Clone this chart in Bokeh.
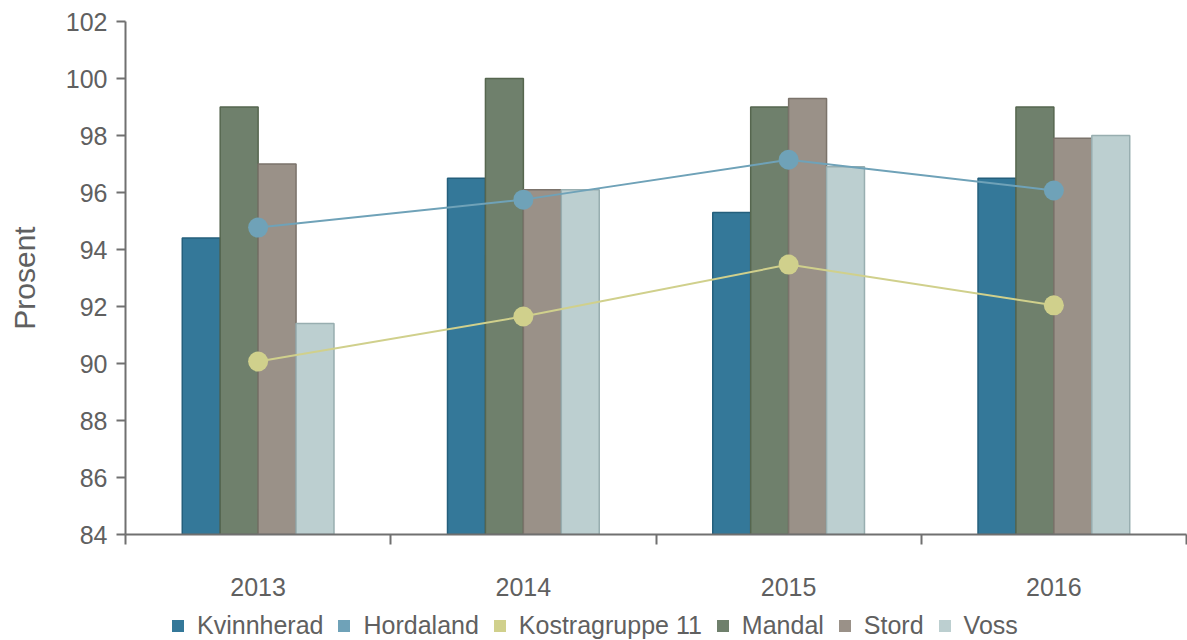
from bokeh.plotting import figure
from bokeh.layouts import column
from bokeh.models import Range1d, FixedTicker, ColumnDataSource, Legend, LegendItem
from bokeh.embed import file_html
from bokeh.resources import INLINE

# ---- data ----
years = ["2013", "2014", "2015", "2016"]
kvinnherad = [94.4, 96.5, 95.3, 96.5]
hordaland = [94.77, 95.75, 97.15, 96.07]
kostragruppe11 = [90.07, 91.65, 93.47, 92.04]
mandal = [99.0, 100.0, 99.0, 99.0]
stord = [97.0, 96.1, 99.3, 97.9]
voss = [91.4, 96.1, 96.9, 98.0]
y_ticks = [84, 86, 88, 90, 92, 94, 96, 98, 100, 102]

# ---- styles ----
FONT = "Liberation Sans"
TXT = "#606060"
AXIS = "#707070"
bar_series = [
    ("Kvinnherad", kvinnherad, "#347899", "#245f7c"),
    ("Mandal", mandal, "#6f806c", "#56664f"),
    ("Stord", stord, "#9a9188", "#7b736b"),
    ("Voss", voss, "#bccfd0", "#98aeb0"),
]
line_series = [
    ("Hordaland", hordaland, "#6fa2b8"),
    ("Kostragruppe 11", kostragruppe11, "#d0d08c"),
]
legend_order = ["Kvinnherad", "Hordaland", "Kostragruppe 11", "Mandal", "Stord", "Voss"]
colors = {n: c for n, _, c, _ in bar_series}
colors.update({n: c for n, _, c in line_series})

W = 1187
n = len(years)
p = figure(width=W, height=608, output_backend="svg", toolbar_location=None,
           x_range=Range1d(0, n), y_range=Range1d(y_ticks[0], y_ticks[-1]),
           min_border_left=125, min_border_top=21, min_border_bottom=74,
           min_border_right=1)
p.outline_line_color = None
p.grid.visible = False
p.background_fill_color = "white"
p.border_fill_color = "white"

centers = [i + 0.5 for i in range(n)]
bar_w = 0.143
sources = {}
for j, (name, vals, fill, line) in enumerate(bar_series):
    off = (j - (len(bar_series) - 1) / 2) * bar_w
    src = ColumnDataSource(dict(x=[c + off for c in centers], top=vals,
                                bottom=[y_ticks[0]] * n))
    sources[name] = src
    p.vbar(x="x", top="top", bottom="bottom", width=bar_w, source=src,
           fill_color=fill, line_color=line, line_width=1.5)

for name, vals, col in line_series:
    src = ColumnDataSource(dict(x=centers, y=vals, top=vals,
                                bottom=[y_ticks[0]] * n))
    sources[name] = src
    p.line("x", "y", source=src, line_color=col, line_width=2)
    p.scatter("x", "y", source=src, size=20, fill_color=col, line_color=None)

# x axis: labels at centers, ticks at boundaries
xa = p.xaxis[0]
xa.ticker = FixedTicker(ticks=centers, minor_ticks=list(range(n + 1)))
xa.major_label_overrides = {c: y for c, y in zip(centers, years)}
xa.major_tick_out = 0
xa.major_tick_in = 0
xa.minor_tick_out = 10
xa.minor_tick_in = 0
xa.minor_tick_line_color = AXIS
xa.minor_tick_line_width = 2
xa.axis_line_color = AXIS
xa.axis_line_width = 2
xa.major_label_standoff = 33
xa.major_label_text_font = FONT
xa.major_label_text_font_size = "25px"
xa.major_label_text_color = TXT

ya = p.yaxis[0]
ya.ticker = FixedTicker(ticks=y_ticks, minor_ticks=[])
ya.major_tick_out = 9
ya.major_tick_in = 0
ya.major_tick_line_color = AXIS
ya.major_tick_line_width = 2
ya.axis_line_color = AXIS
ya.axis_line_width = 2
ya.major_label_standoff = 9
ya.major_label_text_font = FONT
ya.major_label_text_font_size = "25px"
ya.major_label_text_color = TXT
ya.axis_label = "Prosent"
ya.axis_label_text_font = FONT
ya.axis_label_text_font_size = "30px"
ya.axis_label_text_font_style = "normal"
ya.axis_label_text_color = TXT
ya.axis_label_standoff = 22

# ---- legend strip below the chart (frames are aligned with the chart) ----
lg = figure(width=W, height=32, output_backend="svg", toolbar_location=None,
            x_axis_location=None, y_axis_location=None,
            x_range=Range1d(0, n), y_range=Range1d(y_ticks[0], y_ticks[-1]),
            min_border_left=0, min_border_right=0, min_border_top=0,
            min_border_bottom=0)
lg.outline_line_color = None
lg.grid.visible = False
items = []
for name in legend_order:
    r = lg.vbar(x="x", top="top", bottom="bottom", width=bar_w,
                source=sources[name], fill_color=colors[name], line_color=None,
                visible=False)
    items.append(LegendItem(label=name, renderers=[r]))
legend = Legend(items=items, orientation="horizontal", location=(45, 0),
                glyph_width=15, glyph_height=15, label_standoff=12, spacing=13,
                padding=0, margin=0, border_line_color=None,
                background_fill_alpha=0, inactive_fill_alpha=0,
                label_text_font=FONT, label_text_font_size="25px",
                label_text_color=TXT)
lg.add_layout(legend, "center")

open("out.html", "w").write(file_html(column(p, lg, spacing=0), INLINE))
